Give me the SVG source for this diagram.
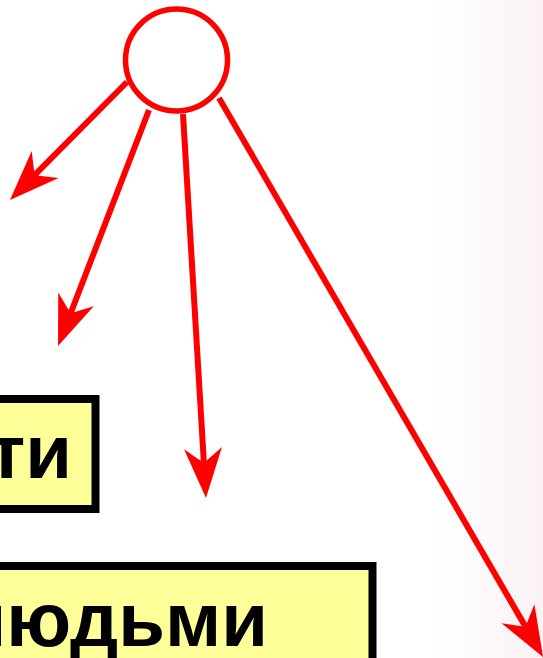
<svg xmlns="http://www.w3.org/2000/svg" width="543" height="658" viewBox="0 0 543 658">
<defs>
<linearGradient id="bg" x1="0" y1="0" x2="1" y2="0">
<stop offset="0" stop-color="#ffffff"/>
<stop offset="0.8" stop-color="#ffffff"/>
<stop offset="1" stop-color="#fbf2f4"/>
</linearGradient>
<marker id="ah" markerUnits="userSpaceOnUse" markerWidth="60" markerHeight="46" viewBox="-52 -23 56 46" refX="-30" refY="0" orient="auto">
<path d="M0,0 L-50,-19 L-35,0 L-50,19 Z" fill="#ff0000"/>
</marker>
<style>
.con{stroke:#ff0000;stroke-width:6;fill:none;marker-end:url(#ah)}
.box{fill:#ffff99;stroke:#000000;stroke-width:8}
.lbl{font-family:"Liberation Sans",Arial,sans-serif;font-weight:bold;font-size:76px;fill:#000000}
</style>
</defs>
<rect x="0" y="0" width="543" height="658" fill="url(#bg)"/>
<g id="connectors">
<line class="con" x1="127" y1="82" x2="31.1" y2="178.7"/>
<line class="con" x1="149" y1="110" x2="68.8" y2="318"/>
<line class="con" x1="183" y1="114" x2="204.2" y2="468.1"/>
<line class="con" x1="219" y1="98" x2="528" y2="631"/>
</g>
<g id="hub">
<circle cx="176.5" cy="60" r="51" fill="#ffffff" stroke="#ff0000" stroke-width="5.5"/>
</g>
<g id="node-ti">
<rect class="box" x="-20" y="399" width="115.5" height="110"/>
<text class="lbl" x="72" y="478" text-anchor="end">ти</text>
</g>
<g id="node-lyudmi">
<rect class="box" x="-20" y="566" width="392.5" height="120"/>
<text class="lbl" x="268" y="646" text-anchor="end">людьми</text>
</g>
</svg>
